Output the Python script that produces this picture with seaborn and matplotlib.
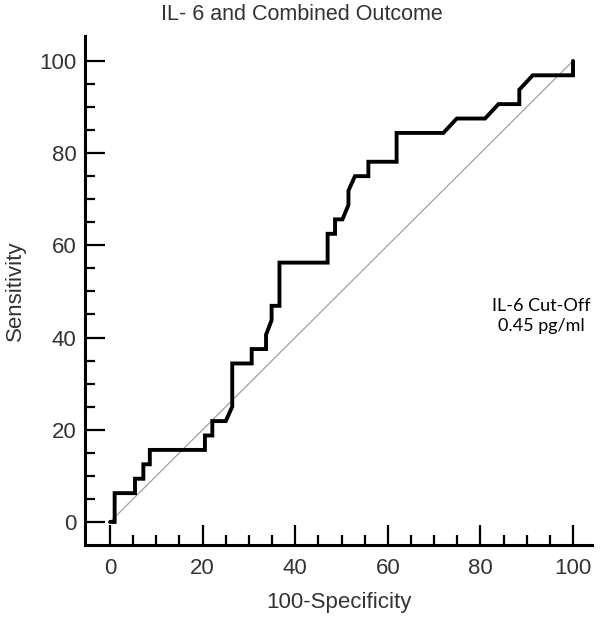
import numpy as np
import pandas as pd
import matplotlib
matplotlib.use('Agg')
import matplotlib.pyplot as plt
from matplotlib.ticker import MultipleLocator, FixedLocator
import seaborn as sns

# ROC curve vertices
fpr = [0, 1.0, 1.0, 5.4, 5.4, 7.2, 7.2, 8.6, 8.6, 20.5, 20.5, 22.1, 22.1, 25.0,
       26.4, 26.4, 30.6, 30.6, 33.7, 33.7, 34.9, 34.9, 36.6, 36.6, 47.0, 47.0,
       48.6, 48.6, 50.2, 51.5, 51.5, 52.9, 55.8, 55.8, 61.9, 61.9, 72.0, 74.9,
       81.0, 83.9, 88.4, 88.4, 91.3, 100, 100]
tpr = [0, 0, 6.25, 6.25, 9.375, 9.375, 12.5, 12.5, 15.625, 15.625, 18.75, 18.75,
       21.875, 21.875, 25.0, 34.375, 34.375, 37.5, 37.5, 40.625, 43.75, 46.875,
       46.875, 56.25, 56.25, 62.5, 62.5, 65.625, 65.625, 68.75, 71.875, 75.0,
       75.0, 78.125, 78.125, 84.375, 84.375, 87.5, 87.5, 90.625, 90.625, 93.75,
       96.875, 96.875, 100]
diag = [0, 100]

title = 'IL- 6 and Combined Outcome'
note = 'IL-6 Cut-Off\n0.45 pg/ml'

sns.set_style('white')
plt.rcParams['font.family'] = ['Liberation Sans', 'DejaVu Sans']
txt = '#333333'

fig = plt.figure(figsize=(6, 6.21), dpi=100)
ax = fig.add_axes([85 / 600, 1 - 545 / 621, (592 - 85) / 600, (545 - 36) / 621])

roc = pd.DataFrame({'x': fpr, 'y': tpr})
ref = pd.DataFrame({'x': diag, 'y': diag})
sns.lineplot(data=ref, x='x', y='y', ax=ax, color='#a0a0a0', linewidth=0.9,
             estimator=None, sort=False)
sns.lineplot(data=roc, x='x', y='y', ax=ax, color='black', linewidth=2.8,
             estimator=None, sort=False, solid_joinstyle='miter')

ax.set_xlim(-5.4, 104.1)
ax.set_ylim(-5.0, 105.4)
for s in ['top', 'right']:
    ax.spines[s].set_visible(False)
for s in ['left', 'bottom']:
    ax.spines[s].set_linewidth(2.2)
    ax.spines[s].set_color('black')

ax.xaxis.set_major_locator(MultipleLocator(20))
ax.yaxis.set_major_locator(MultipleLocator(20))
ax.xaxis.set_minor_locator(FixedLocator(np.arange(0, 101, 5)))
ax.yaxis.set_minor_locator(FixedLocator(np.arange(0, 101, 5)))
ax.tick_params(which='both', bottom=True, left=True, top=False, right=False)
ax.tick_params(which='major', direction='in', length=14.4, width=1.6,
               labelsize=16, labelcolor=txt, color='black')
ax.tick_params(which='minor', direction='in', length=7.5, width=1.6, color='black')
ax.tick_params(axis='x', which='major', pad=9)
ax.tick_params(axis='y', which='major', pad=6)

ax.set_xlabel('100-Specificity', fontsize=16, color=txt, labelpad=10)
ax.set_ylabel('Sensitivity', fontsize=16, color=txt, labelpad=10)

fig.text(302 / 600, 1 - 15 / 621, title, ha='center', va='center',
         fontsize=15.5, color=txt)
fig.text(541.5 / 600, 1 - 316 / 621, note, ha='center', va='center',
         fontsize=13, color='black', family=['Lato', 'DejaVu Sans'],
         linespacing=1.3)

fig.savefig('out.png', dpi=100)
